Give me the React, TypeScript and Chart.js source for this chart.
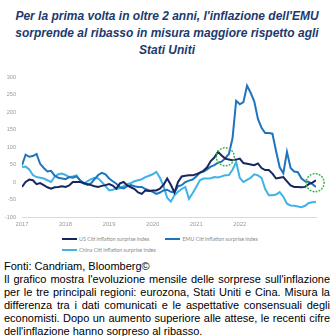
import React, { useEffect, useRef } from "react";
import { Chart, registerables } from "chart.js";

Chart.register(...registerables);

// Monthly observations, Jan 2017 .. Oct 2023
const START_YEAR = 2017;

const usValues = [
  -14, 0, 7, 5, -6, -3, -9, -15, -19, -15, -14, -12,
  -14, -10, 0, 0, 0, -3, -6, -9, -12, -14, -11, -9,
  -6, -10, -19, -4, 0, -10, -15, -20, -30, -34, -24, -26,
  -24, -24, -19, -8, 10, -8, -30, 0, 16, 18, 19, 19,
  22, 27, 32, 42, 60, 70, 86, 76, 67, 64, 62, 64,
  67, 54, 52, 50, 48, 53, 40, 34, 34, 24, 10, 12,
  14, 2, -10, -14, -14, -15, -14, -6, -2, 5,
];

const emuValues = [
  48, 78, 72, 74, 80, 52, 40, 30, 32, 18, 12, 10,
  8, 14, 12, 16, 5, -3, -8, -4, 8, 20, 26, 22,
  10, 2, -5, -15, -18, -12, -9, -12, -14, -14, -20, -24,
  -28, -34, -30, -24, -22, -28, -30, -12, -9, 0, 4, 7,
  16, 26, 30, 36, 44, 48, 55, 58, 68, 80, 125, 232,
  222, 228, 275, 255, 230, 180, 155, 140, 140, 138, 88, 42,
  25, 86, 40, 30, 28, 10, 2, 0, -6, -14,
];

const chinaValues = [
  43, 44, 36, 20, 14, 12, 10, 5, 0, 15, 22, 24,
  20, 14, 16, 19, 5, -5, 2, 8, 12, 10, 0, -12,
  -24, -22, -19, -18, -12, -6, -3, 2, 5, 8, 14, 18,
  22, 29, 12, -12, -45, -56, -38, -28, -20, -14, -48, -32,
  -14, 5, 10, 10, 11, 14, 13, 16, 19, 20, 35, 57,
  12, 0, 6, 12, 22, 19, 12, -20, -38, -38, -36, -29,
  -42, -62, -67, -68, -70, -72, -68, -60, -58, -57,
];

const seriesNames = [
  "US Citi inflation surprise index",
  "EMU Citi inflation surprise index",
  "China Citi inflation surprise index",
];
const seriesColors = ["#17265f", "#1f74bd", "#3fb3e6"];

// highlighted spots (date as decimal year, index value)
const highlightDates = [2021.667, 2023.73];
const highlightValues = [72, -2];

const titleLines = [
  "Per la prima volta in oltre 2 anni, l'inflazione dell'EMU",
  "sorprende al ribasso in misura maggiore rispetto agli",
  "Stati Uniti",
];

const sourceText = "Fonti: Candriam, Bloomberg©";
const bodyLines = [
  "Il grafico mostra l'evoluzione mensile delle sorprese sull'inflazione",
  "per le tre principali regioni: eurozona, Stati Uniti e Cina. Misura la",
  "differenza tra i dati comunicati e le aspettative consensuali degli",
  "economisti. Dopo un aumento superiore alle attese, le recenti cifre",
  "dell'inflazione hanno sorpreso al ribasso.",
];

function toPoints(values: number[]) {
  return values.map((v, i) => ({ x: START_YEAR + i / 12, y: v }));
}

const circlePlugin = {
  id: "circles",
  afterDatasetsDraw(chart: any) {
    const { ctx, scales } = chart;
    const xs = scales.x;
    const ys = scales.y;
    ctx.save();
    ctx.strokeStyle = "#3cb54a";
    ctx.lineWidth = 1.6;
    ctx.lineCap = "round";
    ctx.setLineDash([0.5, 2.6]);
    highlightDates.forEach((d, i) => {
      ctx.beginPath();
      ctx.arc(xs.getPixelForValue(d), ys.getPixelForValue(highlightValues[i]), 9, 0, Math.PI * 2);
      ctx.stroke();
    });
    ctx.restore();
  },
};

export default function App() {
  const canvasRef = useRef<HTMLCanvasElement | null>(null);

  useEffect(() => {
    if (!canvasRef.current) return;
    const all = [usValues, emuValues, chinaValues];
    const lastX = START_YEAR + (usValues.length - 1) / 12;
    const chart = new Chart(canvasRef.current, {
      type: "line",
      data: {
        datasets: all.map((vals, i) => ({
          label: seriesNames[i],
          data: toPoints(vals),
          borderColor: seriesColors[i],
          backgroundColor: seriesColors[i],
          borderWidth: 2,
          pointRadius: 0,
          tension: 0,
          fill: false,
        })),
      },
      options: {
        animation: false,
        responsive: false,
        maintainAspectRatio: false,
        layout: { padding: { top: 17, right: 18, bottom: 0, left: 0 } },
        plugins: {
          legend: { display: false },
          tooltip: { enabled: false },
        },
        scales: {
          x: {
            type: "linear",
            min: START_YEAR,
            max: lastX,
            grid: { display: false, drawTicks: false },
            border: { display: true, color: "#d9d9d9", width: 1 },
            ticks: {
              stepSize: 1,
              autoSkip: false,
              maxRotation: 0,
              padding: 4,
              color: "#9a9a9a",
              font: { family: "Liberation Sans", size: 5.8 },
              callback: (v: any) => (Number.isInteger(v) ? String(v) : ""),
            },
            afterFit: (s: any) => {
              s.height = 16;
            },
          },
          y: {
            min: -100,
            max: 300,
            grid: { display: false, drawTicks: false },
            border: { display: false },
            ticks: {
              stepSize: 50,
              padding: 6,
              color: "#9a9a9a",
              font: { family: "Liberation Sans", size: 5.6 },
            },
            afterFit: (s: any) => {
              s.width = 22;
            },
          },
        },
      },
      plugins: [circlePlugin],
    });
    return () => chart.destroy();
  }, []);

  return (
    <div
      style={{
        position: "fixed",
        left: 0,
        top: 0,
        width: 334,
        height: 336,
        background: "#fff",
        overflow: "hidden",
        fontFamily: "'Liberation Sans', Arial, sans-serif",
      }}
    >
      <div
        style={{
          position: "absolute",
          top: 8,
          left: 0,
          width: 334,
          textAlign: "center",
          fontWeight: "bold",
          fontStyle: "italic",
          fontSize: 12,
          lineHeight: "17px",
          color: "#1d3a6e",
        }}
      >
        {titleLines.map((t, i) => (
          <div key={i}>{t}</div>
        ))}
      </div>
      <canvas
        ref={canvasRef}
        width={334}
        height={173}
        style={{ position: "absolute", top: 60, left: 0, width: 334, height: 173 }}
      />
      <div
        style={{
          position: "absolute",
          top: 234,
          left: 62,
          width: 215,
          display: "flex",
          flexWrap: "wrap",
          rowGap: 1,
          fontFamily: "Lato, sans-serif",
          fontSize: 5.3,
          lineHeight: "10px",
          color: "#8a8a8a",
        }}
      >
        {seriesNames.map((n, i) => (
          <div key={i} style={{ display: "flex", alignItems: "center", marginRight: 16 }}>
            <span
              style={{
                display: "inline-block",
                width: 15,
                height: 2,
                background: seriesColors[i],
                marginRight: 2,
              }}
            />
            <span style={{ whiteSpace: "nowrap" }}>{n}</span>
          </div>
        ))}
      </div>
      <div
        style={{
          position: "absolute",
          top: 260,
          left: 4,
          width: 326,
          fontSize: 11,
          lineHeight: "13px",
          color: "#000",
        }}
      >
        <div>{sourceText}</div>
        {bodyLines.map((t, i) => (
          <div
            key={i}
            style={{
              whiteSpace: "nowrap",
              textAlign: "justify",
              textAlignLast: i < bodyLines.length - 1 ? "justify" : "left",
            }}
          >
            {t}
          </div>
        ))}
      </div>
    </div>
  );
}
